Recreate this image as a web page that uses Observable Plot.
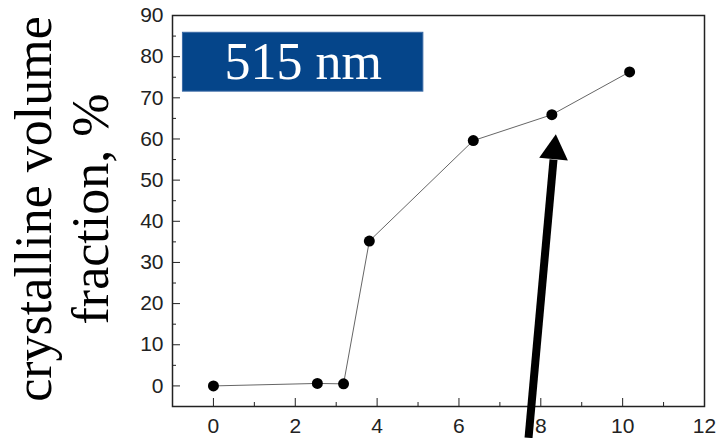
<!DOCTYPE html>
<html>
<head>
<meta charset="utf-8">
<script src="https://cdn.jsdelivr.net/npm/d3@7"></script>
<script src="https://cdn.jsdelivr.net/npm/@observablehq/plot@0.6"></script>
<style>
  html, body { margin: 0; padding: 0; background: #fff; }
  #chart svg { display: block; }
</style>
</head>
<body>
<div id="chart"></div>
<script>
// Crystalline volume fraction measurements
const xValues = [0, 2.54, 3.18, 3.81, 6.35, 8.27, 10.17];
const yValues = [0, 0.6, 0.5, 35.2, 59.6, 65.9, 76.3];

// Axis ticks
const xMajorTicks = [0, 2, 4, 6, 8, 10, 12];
const xMinorTicks = [1, 3, 5, 7, 9, 11];
const yMajorTicks = [0, 10, 20, 30, 40, 50, 60, 70, 80, 90];
const yMinorTicks = [5, 15, 25, 35, 45, 55, 65, 75, 85];

// Wavelength label box (data units)
const boxLabel = ["515 nm"];
const boxX = [-0.745, 5.13];
const boxY = [71.5, 85.8];

// Pointer arrow: tail, head base, tip (data units)
const arrowX = [7.70, 8.31, 8.37];
const arrowY = [-12.6, 55.0, 61.3];

const points = xValues.map((x, i) => ({x, y: yValues[i]}));
const box = [{x1: boxX[0], x2: boxX[1], y1: boxY[0], y2: boxY[1], label: boxLabel[0]}];
const shaft = [{x1: arrowX[0], y1: arrowY[0], x2: arrowX[1], y2: arrowY[1]}];
// triangle centre sits one third of the way from base to tip
const head = [{x: arrowX[1] + (arrowX[2] - arrowX[1]) / 3, y: arrowY[1] + (arrowY[2] - arrowY[1]) / 3}];

const tickFont = "'Liberation Sans', Arial, sans-serif";
const serif = "'Liberation Serif', 'Times New Roman', serif";

const chart = Plot.plot({
  width: 717,
  height: 438,
  marginLeft: 172,
  marginRight: 13,
  marginTop: 15,
  marginBottom: 32,
  style: {background: "#fff", fontFamily: tickFont, overflow: "visible"},
  x: {domain: [-1, 12]},
  y: {domain: [-5, 90]},
  marks: [
    Plot.rect(box, {x1: "x1", x2: "x2", y1: "y1", y2: "y2", fill: "#05458a", stroke: "#3a6aa5", strokeWidth: 1}),
    Plot.text(box, {
      x: d => (d.x1 + d.x2) / 2, y: d => (d.y1 + d.y2) / 2, text: "label",
      fill: "#fff", fontSize: 52, fontFamily: serif, lineAnchor: "middle"
    }),
    Plot.line(points, {x: "x", y: "y", stroke: "#666", strokeWidth: 1}),
    Plot.dot(points, {x: "x", y: "y", r: 5.5, fill: "#000"}),
    Plot.axisX(xMajorTicks, {tickSize: -8, tickPadding: 20, fontSize: 21, fill: "#222", stroke: "#222", label: null}),
    Plot.axisX(xMinorTicks, {tickSize: -4, tickFormat: () => "", stroke: "#222", label: null}),
    Plot.axisY(yMajorTicks, {tickSize: -8, tickPadding: 17, fontSize: 21, fill: "#222", stroke: "#222", label: null}),
    Plot.axisY(yMinorTicks, {tickSize: -4, tickFormat: () => "", stroke: "#222", label: null}),
    Plot.frame({stroke: "#222", strokeWidth: 1.5}),
    Plot.link(shaft, {x1: "x1", y1: "y1", x2: "x2", y2: "y2", stroke: "#000", strokeWidth: 8}),
    Plot.dot(head, {x: "x", y: "y", symbol: "triangle", r: 10.7, fill: "#000", rotate: 5.3}),
    Plot.text(["crystalline volume\nfraction, %"], {
      frameAnchor: "left", dx: -111, dy: -2, rotate: -90, fontSize: 52, lineHeight: 1.09,
      fontFamily: serif, fill: "#000", lineAnchor: "middle", textAnchor: "middle"
    })
  ]
});

document.getElementById("chart").appendChild(chart);
</script>
</body>
</html>
